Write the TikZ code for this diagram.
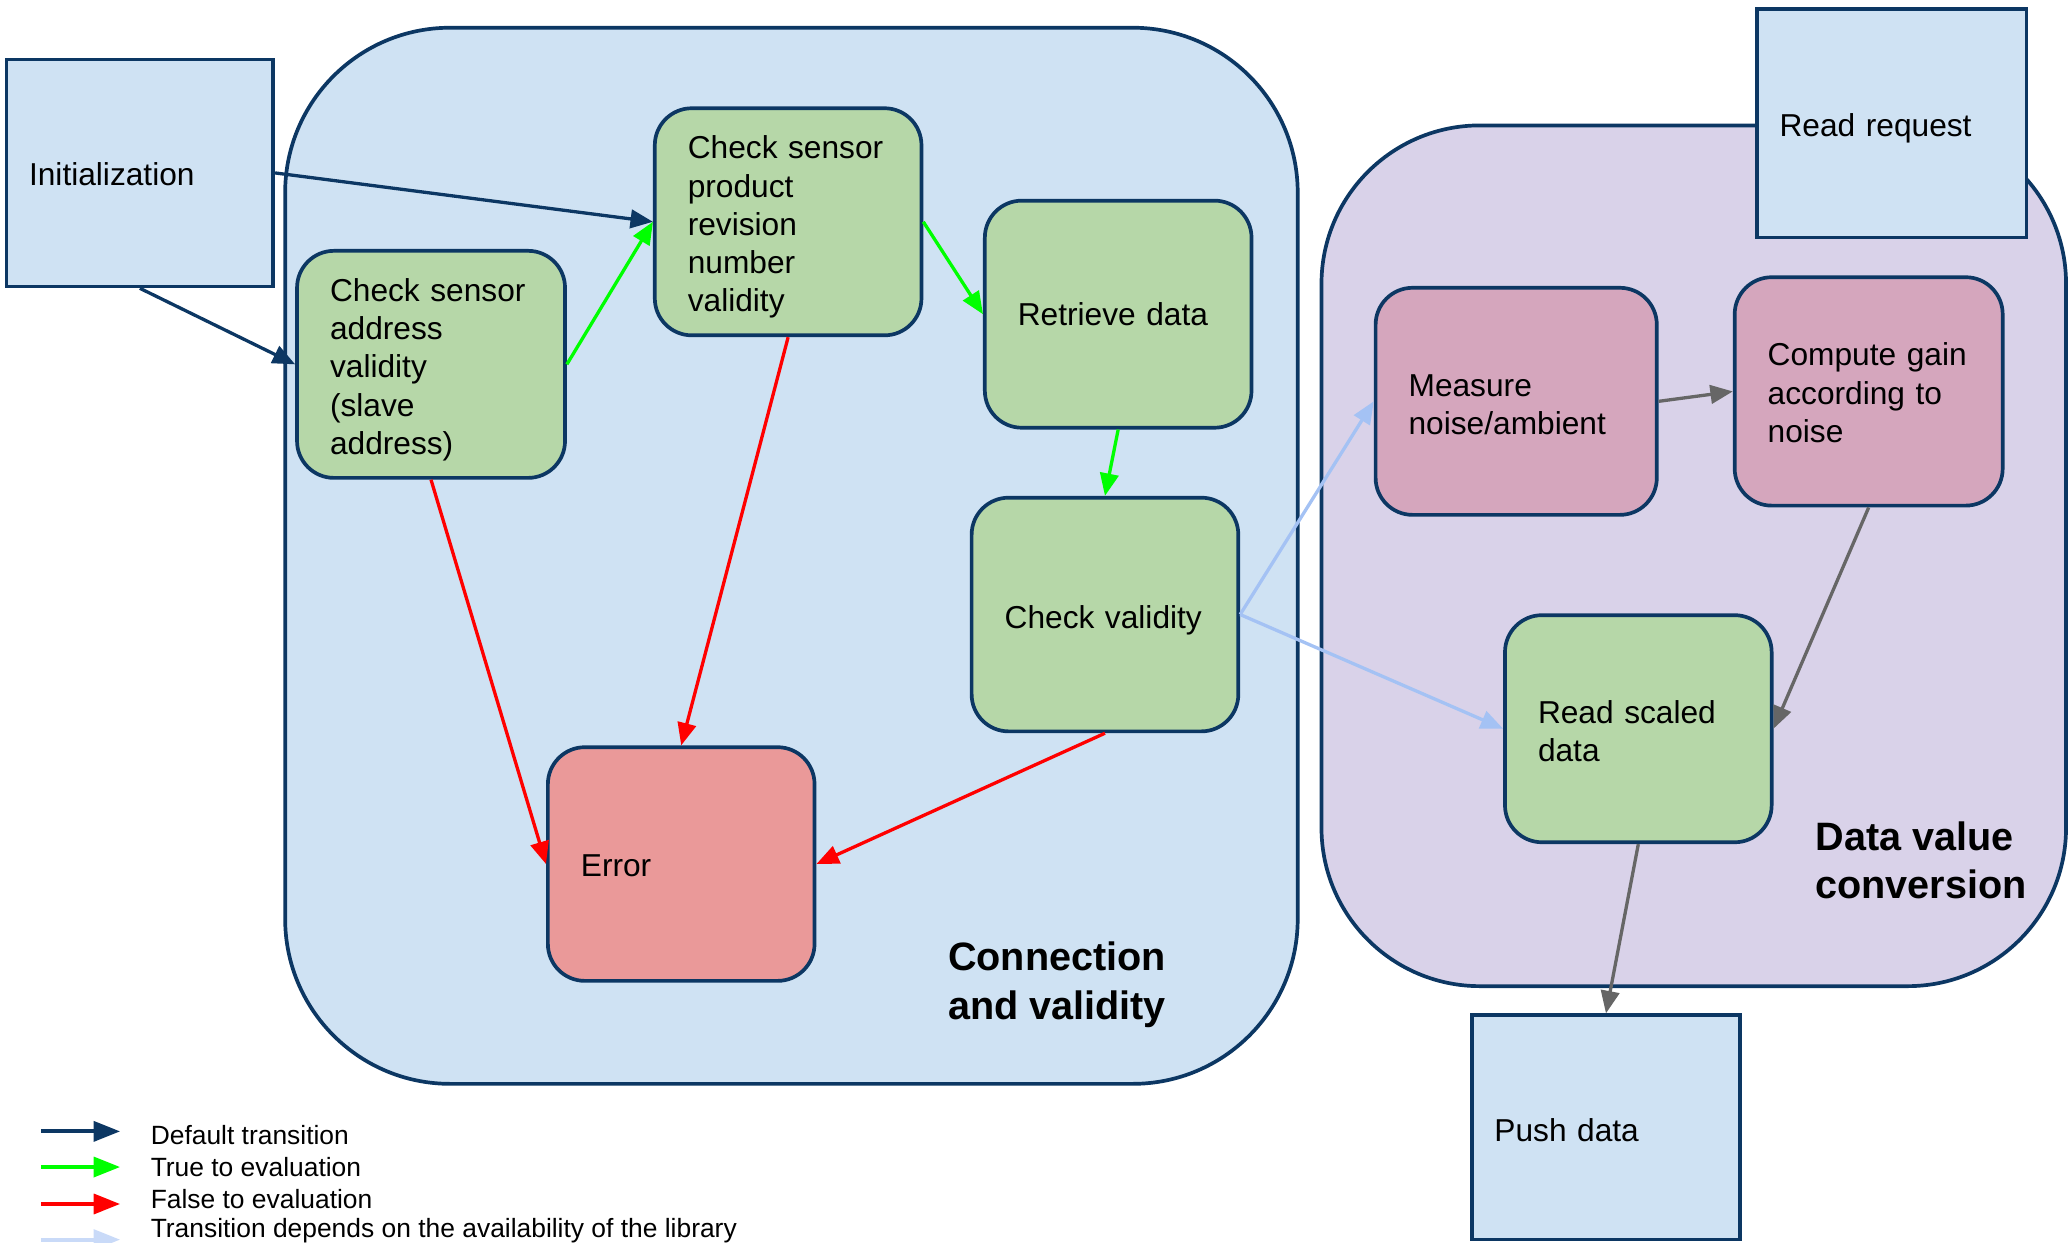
\documentclass[tikz,border=0pt]{standalone}
\usepackage{fontspec}
\setmainfont{Liberation Sans}
\usetikzlibrary{arrows.meta}

\definecolor{edgeNavy}{RGB}{12,55,99}
\definecolor{fillSky}{HTML}{CFE2F3}
\definecolor{fillLilac}{HTML}{D9D2E9}
\definecolor{fillSage}{HTML}{B6D7A8}
\definecolor{fillRose}{HTML}{D5A6BD}
\definecolor{fillSalmon}{HTML}{EA9999}
\definecolor{arrTrue}{HTML}{00FF00}
\definecolor{arrFalse}{HTML}{FF0000}
\definecolor{arrLib}{HTML}{A4C2F4}
\definecolor{arrLibKey}{HTML}{C9DAF8}
\definecolor{arrGray}{HTML}{666666}

\begin{document}
\begin{tikzpicture}[x=1pt,y=-1pt,
  every node/.style={inner sep=0pt},
  basebox/.style={draw=edgeNavy, line width=2.8pt, inner xsep=25pt, inner ysep=0pt,
    align=left, font=\fontsize{24}{29}\selectfont},
  % lowers the text block inside its box by (#1 - 17.5pt)/2
  drop/.style={execute at begin node={\rule{0pt}{#1}}},
  squarebox/.style={basebox, fill=fillSky, inner xsep=17pt},
  greenbox/.style={basebox, fill=fillSage, rounded corners=28pt},
  pinkbox/.style={basebox, fill=fillRose, rounded corners=28pt},
  errbox/.style={basebox, fill=fillSalmon, rounded corners=28pt},
  group/.style={draw=edgeNavy, line width=2.8pt, rounded corners=#1},
  grouptitle/.style={align=left, anchor=north west, font=\fontsize{30}{37}\selectfont\bfseries},
  conn/.style={line width=2.5pt, -{Triangle[length=17pt,width=14pt]}},
  defaultarr/.style={conn, draw=edgeNavy, fill=edgeNavy},
  truearr/.style={conn, draw=arrTrue, fill=arrTrue},
  falsearr/.style={conn, draw=arrFalse, fill=arrFalse},
  libarr/.style={conn, draw=arrLib, fill=arrLib},
  grayarr/.style={conn, draw=arrGray, fill=arrGray},
  keyarr/.style={line width=3pt, -{Triangle[length=20pt,width=15pt]}},
  keytext/.style={anchor=west, font=\fontsize{20}{24}\selectfont}
]
\useasboundingbox (0,0) rectangle (1568,941);

% stage groups
\node[group=125pt, fill=fillSky, minimum width=767pt, minimum height=800pt] (grpConn) at (599.5,421) {};
\node[group=120pt, fill=fillLilac, minimum width=564pt, minimum height=652pt] (grpConv) at (1283,421) {};

\node[grouptitle] (ttlConn) at (718,713) {Connection\\and validity};
\node[grouptitle] (ttlConv) at (1375,622) {Data value\\conversion};

% entry and exit points
\node[squarebox, drop=19.5pt, minimum width=202pt, minimum height=172pt, text width=168pt] (init) at (106,131) {Initialization};
\node[squarebox, drop=25.5pt, minimum width=204pt, minimum height=173pt, text width=170pt] (rreq) at (1433,93.5) {Read request};
\node[squarebox, drop=21.5pt, minimum width=203pt, minimum height=170pt, text width=169pt] (push) at (1216.5,854) {Push data};

% connection and validity steps
\node[greenbox, drop=25.5pt, minimum width=203pt, minimum height=172pt, text width=153pt] (addr) at (326.5,276) {Check sensor\\address\\validity\\(slave\\address)};
\node[greenbox, drop=25.5pt, minimum width=202pt, minimum height=172pt, text width=152pt] (prod) at (597,168) {Check sensor\\product\\revision\\number\\validity};
\node[greenbox, minimum width=202pt, minimum height=172pt, text width=152pt] (retr) at (847,238) {Retrieve data};
\node[greenbox, drop=25.5pt, minimum width=202pt, minimum height=177pt, text width=152pt] (valid) at (837,465.5) {Check validity};
\node[errbox, drop=19.5pt, minimum width=202pt, minimum height=177pt, text width=152pt] (err) at (516,654.5) {Error};

% conversion steps
\node[pinkbox, drop=21.5pt, minimum width=213pt, minimum height=172pt, text width=163pt] (meas) at (1148.5,304) {Measure\\noise/ambient};
\node[pinkbox, drop=19.5pt, minimum width=203pt, minimum height=173pt, text width=153pt] (comp) at (1415.5,296.5) {Compute gain\\according to\\noise};
\node[greenbox, drop=21.5pt, minimum width=202pt, minimum height=172pt, text width=152pt] (rscal) at (1241,552) {Read scaled\\data};

% transitions
\draw[defaultarr] (init.east) -- (prod.west);
\draw[defaultarr] (init.south) -- (addr.west);
\draw[truearr] (addr.east) -- (prod.west);
\draw[truearr] (prod.east) -- (retr.west);
\draw[truearr] (retr.south) -- (valid.north);
\draw[falsearr] (addr.south) -- (err.west);
\draw[falsearr] (prod.south) -- (err.north);
\draw[falsearr] (valid.south) -- (err.east);
\draw[libarr] (valid.east) -- (meas.west);
\draw[libarr] (valid.east) -- (rscal.west);
\draw[grayarr] (meas.east) -- (comp.west);
\draw[grayarr] (comp.south) -- (rscal.east);
\draw[grayarr] (rscal.south) -- (push.north);

% legend
\coordinate (k1a) at (31,857); \coordinate (k1b) at (91,857);
\coordinate (k2a) at (31,884); \coordinate (k2b) at (91,884);
\coordinate (k3a) at (31,912); \coordinate (k3b) at (91,912);
\coordinate (k4a) at (31,939); \coordinate (k4b) at (91,939);
\draw[keyarr, draw=edgeNavy, fill=edgeNavy] (k1a) -- (k1b);
\draw[keyarr, draw=arrTrue, fill=arrTrue] (k2a) -- (k2b);
\draw[keyarr, draw=arrFalse, fill=arrFalse] (k3a) -- (k3b);
\draw[keyarr, draw=arrLibKey, fill=arrLibKey] (k4a) -- (k4b);
\node[keytext] (key1) at (114,860) {Default transition};
\node[keytext] (key2) at (114,884) {True to evaluation};
\node[keytext] (key3) at (114,908) {False to evaluation};
\node[keytext] (key4) at (114,932) {Transition depends on the availability of the library};
\end{tikzpicture}
\end{document}
